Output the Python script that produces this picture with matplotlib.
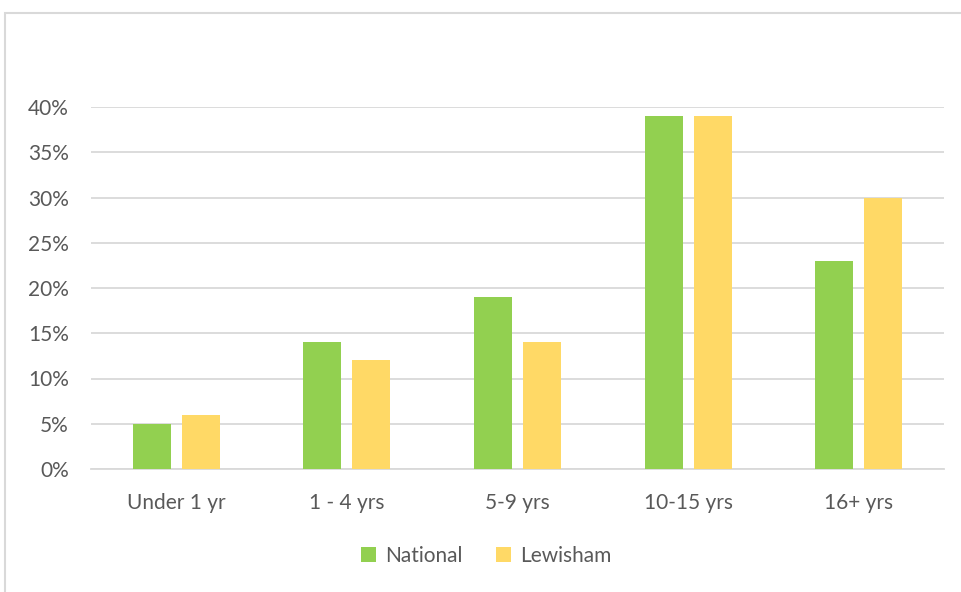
import matplotlib.pyplot as plt
import numpy as np
from matplotlib.patches import Rectangle
from matplotlib.ticker import PercentFormatter

# data
categories = ['Under 1 yr', '1 - 4 yrs', '5-9 yrs', '10-15 yrs', '16+ yrs']
national = [5, 14, 19, 39, 23]
lewisham = [6, 12, 14, 39, 30]

green = '#92D050'
yellow = '#FFD966'
txt = '#595959'
grid = '#D9D9D9'

plt.rcParams['font.family'] = ['Lato', 'DejaVu Sans']

fig = plt.figure(figsize=(9.61, 5.92), dpi=100)
ax = fig.add_axes([91/961, 1-469/592, 853/961, 362/592])

# chart frame (cut off at the top of the picture)
fig.patches.append(Rectangle((5/961, -0.05), 1.0, 1-13/592+0.05, transform=fig.transFigure,
                             fill=False, edgecolor=grid, linewidth=1.5))

x = np.arange(len(categories))
w = 0.223
off = 0.1435
ax.bar(x - off, national, w, color=green, label='National', zorder=3)
ax.bar(x + off, lewisham, w, color=yellow, label='Lewisham', zorder=3)

ax.set_xlim(-0.5, len(categories) - 0.5)
ax.set_ylim(0, 40)
ax.set_yticks(range(0, 41, 5))
ax.yaxis.set_major_formatter(PercentFormatter(decimals=0))
ax.set_xticks(x)
ax.set_xticklabels(categories)
ax.grid(axis='y', color=grid, linewidth=1.3, zorder=0)
for s in ['top', 'right', 'left']:
    ax.spines[s].set_visible(False)
ax.spines['bottom'].set_color(grid)
ax.spines['bottom'].set_linewidth(1.3)
ax.tick_params(axis='both', length=0, labelsize=15, colors=txt)
ax.tick_params(axis='y', pad=16)
ax.tick_params(axis='x', pad=17)

ax.legend(loc='center', bbox_to_anchor=(486/961, 1-556/592), bbox_transform=fig.transFigure,
          ncol=2, frameon=False, fontsize=15, labelcolor=txt, handlelength=0.72,
          handleheight=0.72, handletextpad=0.45, columnspacing=1.6)

plt.savefig('out.png', dpi=100)
